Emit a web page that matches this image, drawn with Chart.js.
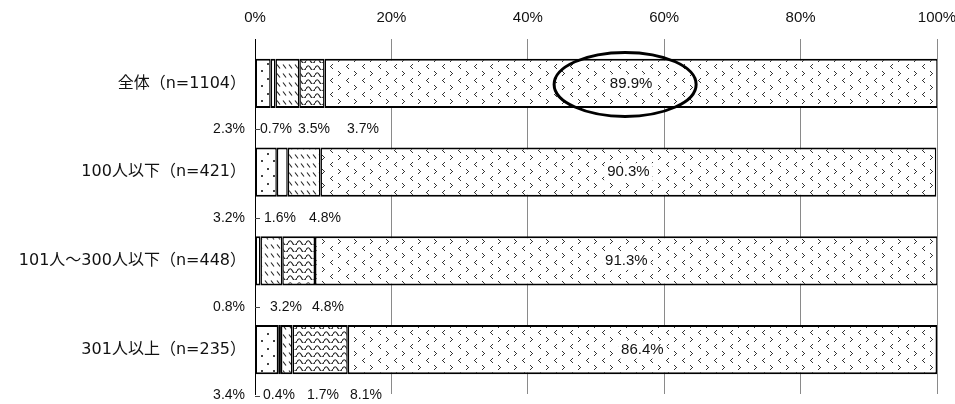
<!DOCTYPE html>
<html lang="ja">
<head>
<meta charset="utf-8">
<title>従業員規模別の回答構成</title>
<script src="https://cdn.jsdelivr.net/npm/chart.js@4.4.1/dist/chart.umd.min.js"></script>
<style>
  html, body { margin: 0; padding: 0; background: #fff; }
  #wrap { position: relative; width: 955px; height: 404px; }
</style>
</head>
<body>
<div id="wrap"><canvas id="chart"></canvas></div>
<script>
// Row labels (company size groups)
const categories = ['全体（n=1104）', '100人以下（n=421）', '101人～300人以下（n=448）', '301人以上（n=235）'];

// Share of answers per group, in percent (five stacked segments)
const seriesDots  = [2.3, 3.2, 0.8, 3.4];
const seriesPlain = [0.7, 1.6, 0.0, 0.4];
const seriesHatch = [3.5, 4.8, 3.2, 1.7];
const seriesWave  = [3.7, 0.0, 4.8, 8.1];
const seriesMain  = [89.9, 90.3, 91.3, 86.4];

// Axis tick values
const tickValues = [0, 20, 40, 60, 80, 100];

const INK = '#222';
const FONT_LATIN = "'Liberation Sans', 'Noto Sans CJK JP', sans-serif";
const FONT_JP = "'DejaVu Sans', 'Noto Sans CJK JP', sans-serif";

// --- monochrome fill patterns -------------------------------------------
function makePattern(w, h, draw) {
  const tile = document.createElement('canvas');
  tile.width = w; tile.height = h;
  const g = tile.getContext('2d');
  g.fillStyle = '#fff';
  g.fillRect(0, 0, w, h);
  g.fillStyle = INK;
  g.strokeStyle = INK;
  draw(g);
  return g.createPattern(tile, 'repeat');
}
function px(g, pts) { pts.forEach(([x, y]) => g.fillRect(x, y, 1, 1)); }

const patDots = makePattern(12, 15, g => {
  g.fillStyle = '#444';
  g.fillRect(3, 3, 2, 2);
  g.fillRect(9, 10, 2, 2);
});
const patHatch = makePattern(6, 9, g => {
  g.lineWidth = 1.1;
  g.beginPath();
  g.moveTo(1, 1.5); g.lineTo(4, 5.5);
  g.stroke();
});
const patWave = makePattern(9, 7, g => {
  g.lineWidth = 1.2;
  g.beginPath();
  g.moveTo(0, 5);
  g.quadraticCurveTo(2.25, 0.5, 4.5, 5);
  g.quadraticCurveTo(6.75, 9.5, 9, 5);
  g.stroke();
});
const patChevron = makePattern(16, 14, g => {
  g.fillStyle = '#333';
  // ">" mark
  px(g, [[2, 1], [3, 2], [4, 3], [3, 4], [2, 5]]);
  // "<" mark
  px(g, [[12, 8], [11, 9], [10, 10], [11, 11], [12, 12]]);
});

// --- value labels, leader ticks and highlight ring -----------------------
const labelPlugin = {
  id: 'valueLabels',
  afterDatasetsDraw(chart, args, opts) {
    const { ctx, chartArea } = chart;
    const left = chartArea.left;
    ctx.save();
    ctx.textBaseline = 'middle';

    // main segment: value centred on a white box
    ctx.font = "15px " + FONT_LATIN;
    const mainMeta = chart.getDatasetMeta(4);
    mainMeta.data.forEach((bar, i) => {
      const v = seriesMain[i];
      const cx = (bar.base + bar.x) / 2;
      const text = v.toFixed(1) + '%';
      const w = ctx.measureText(text).width;
      ctx.fillStyle = '#fff';
      ctx.fillRect(cx - w / 2 - 3, bar.y - 9, w + 6, 18);
      ctx.fillStyle = '#111';
      ctx.textAlign = 'center';
      ctx.fillText(text, cx, bar.y);
      if (i === opts.ringRow) {
        ctx.save();
        ctx.lineWidth = 3;
        ctx.strokeStyle = '#000';
        ctx.beginPath();
        ctx.ellipse(cx - 6, bar.y + 1, 71, 32, 0, 0, Math.PI * 2);
        ctx.stroke();
        ctx.restore();
      }
    });

    // small segments: values set out below each bar
    ctx.font = "14px " + FONT_LATIN;
    const small = [seriesDots, seriesPlain, seriesHatch, seriesWave];
    chart.getDatasetMeta(0).data.forEach((bar, row) => {
      const y = bar.y + opts.belowGap;
      // leader tick from the axis
      ctx.strokeStyle = '#444';
      ctx.lineWidth = 1;
      ctx.beginPath();
      ctx.moveTo(left, Math.round(y) + 0.5);
      ctx.lineTo(left + 5, Math.round(y) + 0.5);
      ctx.stroke();

      ctx.fillStyle = '#111';
      ctx.textAlign = 'right';
      ctx.fillText(small[0][row].toFixed(1) + '%', left - 10, y);

      const slots = opts.slots[row];
      let k = 0;
      for (let s = 1; s < small.length; s++) {
        const v = small[s][row];
        if (!v) continue;
        ctx.textAlign = 'center';
        ctx.fillText(v.toFixed(1) + '%', left + slots[k], y);
        k++;
      }
    });
    ctx.restore();
  }
};

function ds(label, data, fill) {
  return {
    label, data,
    backgroundColor: fill,
    borderColor: '#000',
    borderWidth: { top: 2, bottom: 2, left: 1.5, right: 1.5 },
    borderSkipped: false,
    barPercentage: 0.555,
    categoryPercentage: 1.0
  };
}

new Chart(document.getElementById('chart'), {
  type: 'bar',
  data: {
    labels: categories,
    datasets: [
      ds('dots', seriesDots, patDots),
      ds('plain', seriesPlain, '#fff'),
      ds('hatch', seriesHatch, patHatch),
      ds('wave', seriesWave, patWave),
      ds('main', seriesMain, patChevron)
    ]
  },
  options: {
    indexAxis: 'y',
    responsive: true,
    maintainAspectRatio: false,
    animation: false,
    devicePixelRatio: 1,
    layout: { padding: { left: 0, right: 18, top: 0, bottom: 10 } },
    plugins: {
      legend: { display: false },
      tooltip: { enabled: false },
      valueLabels: {
        ringRow: 0,
        belowGap: 46,
        slots: [[21, 59, 108], [25, 70], [31, 73], [24, 68, 111]]
      }
    },
    scales: {
      x: {
        position: 'top',
        stacked: true,
        min: 0,
        max: 100,
        afterBuildTicks(scale) { scale.ticks = tickValues.map(v => ({ value: v })); },
        afterFit(scale) {
          scale.height = 39;
          scale.paddingLeft = 0;
          scale.paddingRight = 0;
        },
        ticks: {
          callback: v => v + '%',
          font: { family: FONT_LATIN, size: 15 },
          color: '#111',
          padding: 12,
          maxRotation: 0
        },
        grid: { color: '#8a8a8a', lineWidth: 1, drawTicks: false },
        border: { display: false }
      },
      y: {
        stacked: true,
        afterFit(scale) {
          scale.width = 255;
          scale.paddingTop = 0;
          scale.paddingBottom = 0;
        },
        ticks: {
          font: { family: FONT_JP, size: 16 },
          color: '#111',
          padding: 9
        },
        grid: { display: false, drawTicks: false },
        border: { display: true, color: '#000', width: 1 }
      }
    }
  },
  plugins: [labelPlugin]
});
</script>
</body>
</html>
